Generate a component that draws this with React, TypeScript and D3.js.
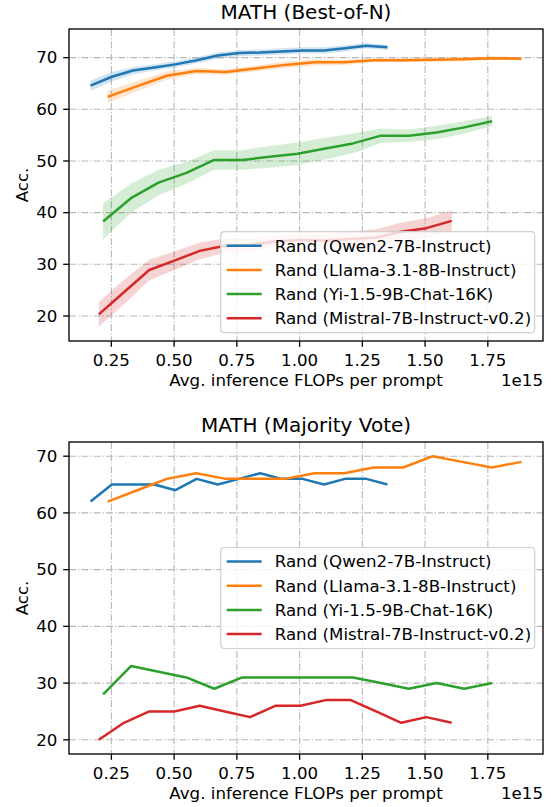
import * as d3 from 'd3';

// FLOPs (x 1e15) per series
const qwenX = [0.167, 0.252, 0.336, 0.421, 0.505, 0.590, 0.674, 0.759, 0.843, 0.928, 1.012, 1.097, 1.181, 1.266, 1.350];
const llamaX = [0.235, 0.353, 0.471, 0.588, 0.706, 0.824, 0.942, 1.060, 1.177, 1.295, 1.413, 1.531, 1.648, 1.766, 1.884];
const yiX = [0.217, 0.328, 0.438, 0.549, 0.660, 0.771, 0.881, 0.992, 1.103, 1.213, 1.324, 1.435, 1.546, 1.656, 1.767];
const mistralX = [0.200, 0.300, 0.401, 0.501, 0.602, 0.702, 0.803, 0.903, 1.003, 1.104, 1.204, 1.305, 1.405, 1.505, 1.606];

// Best-of-N accuracy (mean, std band)
const qwenBon = [64.6, 66.3, 67.5, 68.1, 68.7, 69.5, 70.4, 70.9, 71.0, 71.2, 71.4, 71.4, 71.8, 72.3, 72.0];
const qwenBonStd = [1.0, 0.9, 0.7, 0.6, 0.6, 0.6, 0.6, 0.6, 0.6, 0.6, 0.6, 0.6, 0.6, 0.5, 0.5];
const llamaBon = [62.4, 64.5, 66.5, 67.4, 67.2, 67.9, 68.6, 69.1, 69.1, 69.5, 69.5, 69.6, 69.7, 69.9, 69.8];
const llamaBonStd = [1.2, 1.0, 0.8, 0.6, 0.5, 0.6, 0.6, 0.6, 0.5, 0.4, 0.4, 0.4, 0.4, 0.4, 0.3];
const yiBon = [38.3, 42.8, 45.8, 47.7, 50.2, 50.2, 50.8, 51.4, 52.4, 53.4, 54.9, 54.9, 55.5, 56.5, 57.7];
const yiBonStd = [3.5, 2.8, 2.5, 2.1, 1.9, 1.9, 2.1, 2.2, 2.1, 1.9, 1.4, 1.2, 1.3, 1.2, 1.0];
const mistralBon = [20.3, 24.6, 28.9, 30.7, 32.6, 33.6, 33.8, 34.4, 34.7, 34.6, 34.9, 35.2, 36.3, 37.0, 38.4];
const mistralBonStd = [2.4, 2.4, 2.0, 1.8, 1.6, 1.4, 1.3, 1.2, 1.2, 1.3, 1.5, 1.6, 1.8, 1.9, 2.0];

// Majority vote accuracy
const qwenMaj = [62, 65, 65, 65, 64, 66, 65, 66, 67, 66, 66, 65, 66, 66, 65];
const llamaMaj = [62, 64, 66, 67, 66, 66, 66, 67, 67, 68, 68, 70, 69, 68, 69];
const yiMaj = [28, 33, 32, 31, 29, 31, 31, 31, 31, 31, 30, 29, 30, 29, 30];
const mistralMaj = [20, 23, 25, 25, 26, 25, 24, 26, 26, 27, 27, 25, 23, 24, 23];

const labels = [
  'Rand (Qwen2-7B-Instruct)',
  'Rand (Llama-3.1-8B-Instruct)',
  'Rand (Yi-1.5-9B-Chat-16K)',
  'Rand (Mistral-7B-Instruct-v0.2)',
];
const colors = ['#1f77b4', '#ff7f0e', '#2ca02c', '#d62728'];
const xTicks = [0.25, 0.5, 0.75, 1.0, 1.25, 1.5, 1.75];
const yTicks = [20, 30, 40, 50, 60, 70];

const FONT = 'DejaVu Sans, Verdana, sans-serif';
const FS = 16.67;
const LEFT = 69, RIGHT = 543;

type Pt = { x: number; y: number; lo: number; hi: number };

const xsAll = [qwenX, llamaX, yiX, mistralX];

function build(ys: number[][], stds?: number[][]): Pt[][] {
  return ys.map((arr, s) => arr.map((v, i) => {
    const sd = stds ? stds[s][i] : 0;
    return { x: xsAll[s][i], y: v, lo: v - sd, hi: v + sd };
  }));
}

const withMargin = (ext: [number, number]) => {
  const m = (ext[1] - ext[0]) * 0.05;
  return [ext[0] - m, ext[1] + m];
};

function Panel({ title, data, top, bottom, bands, legendPos }:
  { title: string; data: Pt[][]; top: number; bottom: number; bands: boolean; legendPos: 'lower' | 'center' }) {
  const all = data.flat();
  const x = d3.scaleLinear()
    .domain(withMargin(d3.extent(all, d => d.x) as [number, number]))
    .range([LEFT, RIGHT]);
  const y = d3.scaleLinear()
    .domain(withMargin([d3.min(all, d => d.lo)!, d3.max(all, d => d.hi)!]))
    .range([bottom, top]);
  const line = d3.line<Pt>().x(d => x(d.x)).y(d => y(d.y));
  const area = d3.area<Pt>().x(d => x(d.x)).y0(d => y(d.lo)).y1(d => y(d.hi));

  const lw = 314, lh = 101;
  const lx = RIGHT - 8.3 - lw;
  const ly = legendPos === 'lower' ? bottom - 8.3 - lh : (top + bottom) / 2 - lh / 2;
  const grid = '#b8b8b8';
  const dash = '7,2,1.3,2';

  return (
    <g>
      <text x={(LEFT + RIGHT) / 2} y={top - 10} textAnchor="middle" fontSize={20} fontFamily={FONT}>{title}</text>
      {xTicks.map(t => (
        <line key={'gx' + t} x1={x(t)} x2={x(t)} y1={top} y2={bottom} stroke={grid} strokeWidth={1.1} strokeDasharray={dash} />
      ))}
      {yTicks.map(t => (
        <line key={'gy' + t} x1={LEFT} x2={RIGHT} y1={y(t)} y2={y(t)} stroke={grid} strokeWidth={1.1} strokeDasharray={dash} />
      ))}
      {bands && data.map((s, i) => (
        <path key={'b' + i} d={area(s)!} fill={colors[i]} fillOpacity={0.2} stroke="none" />
      ))}
      {data.map((s, i) => (
        <path key={'l' + i} d={line(s)!} fill="none" stroke={colors[i]} strokeWidth={2.5} strokeLinejoin="round" />
      ))}
      <rect x={LEFT} y={top} width={RIGHT - LEFT} height={bottom - top} fill="none" stroke="#000" strokeWidth={1.33} />
      {xTicks.map(t => (
        <g key={'tx' + t} transform={`translate(${x(t)},${bottom})`}>
          <line y2={5.8} stroke="#000" strokeWidth={1.33} />
          <text y={11.6} dy="0.78em" textAnchor="middle" fontSize={FS} fontFamily={FONT}>{d3.format('.2f')(t)}</text>
        </g>
      ))}
      {yTicks.map(t => (
        <g key={'ty' + t} transform={`translate(${LEFT},${y(t)})`}>
          <line x2={-5.8} stroke="#000" strokeWidth={1.33} />
          <text x={-11.6} dy="0.35em" textAnchor="end" fontSize={FS} fontFamily={FONT}>{t}</text>
        </g>
      ))}
      <text x={(LEFT + RIGHT) / 2} y={bottom + 45} textAnchor="middle" fontSize={FS} fontFamily={FONT}>Avg. inference FLOPs per prompt</text>
      <text x={RIGHT} y={bottom + 45} textAnchor="end" fontSize={FS} fontFamily={FONT}>1e15</text>
      <text transform={`translate(${22},${(top + bottom) / 2}) rotate(-90)`} dy="0.35em" textAnchor="middle" fontSize={FS} fontFamily={FONT}>Acc.</text>
      <g transform={`translate(${lx},${ly})`}>
        <rect width={lw} height={lh} rx={3.5} fill="#fff" fillOpacity={0.8} stroke="#d0d0d0" strokeWidth={1.2} />
        {labels.map((lab, i) => (
          <g key={lab} transform={`translate(0,${14 + i * 24.2})`}>
            <line x1={6} x2={41} stroke={colors[i]} strokeWidth={2.5} />
            <text x={54} dy="0.35em" fontSize={FS} fontFamily={FONT}>{lab}</text>
          </g>
        ))}
      </g>
    </g>
  );
}

export default function App() {
  const bon = build([qwenBon, llamaBon, yiBon, mistralBon], [qwenBonStd, llamaBonStd, yiBonStd, mistralBonStd]);
  const maj = build([qwenMaj, llamaMaj, yiMaj, mistralMaj]);
  return (
    <div style={{ position: 'absolute', left: 0, top: 0 }}>
      <svg width={551} height={807} style={{ display: 'block', background: '#fff' }}>
        <Panel title="MATH (Best-of-N)" data={bon} top={29} bottom={341} bands legendPos="lower" />
        <Panel title="MATH (Majority Vote)" data={maj} top={442} bottom={754} bands={false} legendPos="center" />
      </svg>
    </div>
  );
}
